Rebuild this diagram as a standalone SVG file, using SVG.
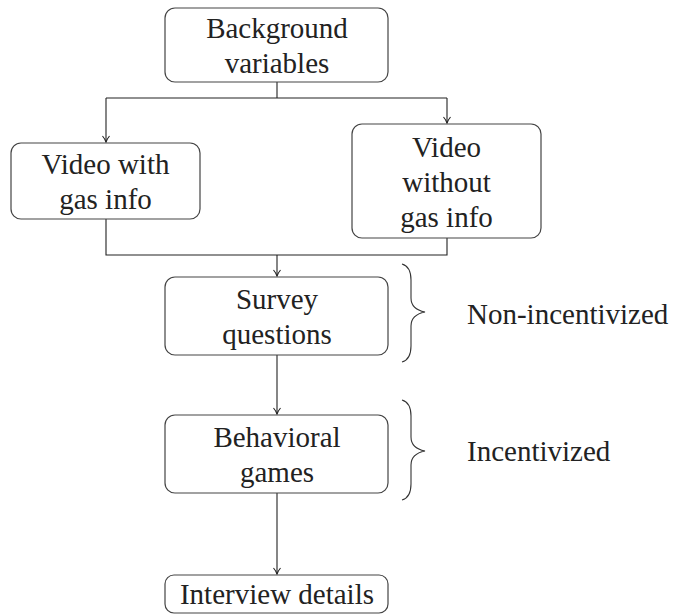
<svg xmlns="http://www.w3.org/2000/svg" width="674" height="615" viewBox="0 0 674 615">
<defs>
<marker id="arr" markerWidth="10" markerHeight="10" refX="8" refY="5" orient="auto" markerUnits="userSpaceOnUse">
<path d="M2,1.5 Q5,4 8,5 Q5,6 2,8.5" fill="none" stroke="#222" stroke-width="1.1"/>
</marker>
</defs>
<style>
.box{fill:#fff;stroke:#444;stroke-width:1.2}
.t{font-size:29px;fill:#222;text-anchor:middle}
.l{font-size:29px;fill:#222}
.c{fill:none;stroke:#222;stroke-width:1.1}
.br{fill:none;stroke:#333;stroke-width:1.1}
</style>
<rect width="674" height="615" fill="#fff"/>
<g id="connectors">
<path class="c" d="M277,82 V98 M106,98 H447"/>
<path class="c" d="M106,98 V142" marker-end="url(#arr)"/>
<path class="c" d="M447,98 V123" marker-end="url(#arr)"/>
<path class="c" d="M106,219 V255 H447 V238"/>
<path class="c" d="M277,255 V276" marker-end="url(#arr)"/>
<path class="c" d="M277,355 V414" marker-end="url(#arr)"/>
<path class="c" d="M277,493 V574" marker-end="url(#arr)"/>
</g>
<g font-family="'Liberation Serif', 'DejaVu Serif', 'Times New Roman', serif">
<g id="background">
<rect class="box" x="165" y="8" width="223" height="74" rx="10"/>
<text class="t" x="277" y="38">Background</text>
<text class="t" x="277" y="73">variables</text>
</g>
<g id="video-with">
<rect class="box" x="11" y="143" width="189" height="76" rx="10"/>
<text class="t" x="105.5" y="174">Video with</text>
<text class="t" x="105.5" y="209">gas info</text>
</g>
<g id="video-without">
<rect class="box" x="352" y="124" width="189" height="114" rx="10"/>
<text class="t" x="446.5" y="157">Video</text>
<text class="t" x="446.5" y="192">without</text>
<text class="t" x="446.5" y="227">gas info</text>
</g>
<g id="survey">
<rect class="box" x="165" y="277" width="223" height="78" rx="10"/>
<text class="t" x="277" y="309">Survey</text>
<text class="t" x="277" y="344">questions</text>
</g>
<g id="behavioral">
<rect class="box" x="165" y="415" width="223" height="78" rx="10"/>
<text class="t" x="277" y="447">Behavioral</text>
<text class="t" x="277" y="482">games</text>
</g>
<g id="interview">
<rect class="box" x="165" y="575" width="223" height="38" rx="9"/>
<text class="t" x="277" y="604">Interview details</text>
</g>
<g id="brace-non">
<path class="br" d="M402,264 C409,266 411,272 411,280 L411,298 C411,305 415,310 425,312 C415,314 411,319 411,326 L411,346 C411,354 409,360 402,362"/>
<text class="l" x="467" y="324">Non-incentivized</text>
</g>
<g id="brace-inc">
<path class="br" d="M402,400 C409,402 411,408 411,416 L411,437 C411,444 415,449 425,451 C415,453 411,458 411,465 L411,484 C411,492 409,498 402,500"/>
<text class="l" x="467" y="461">Incentivized</text>
</g>
</g>
</svg>
